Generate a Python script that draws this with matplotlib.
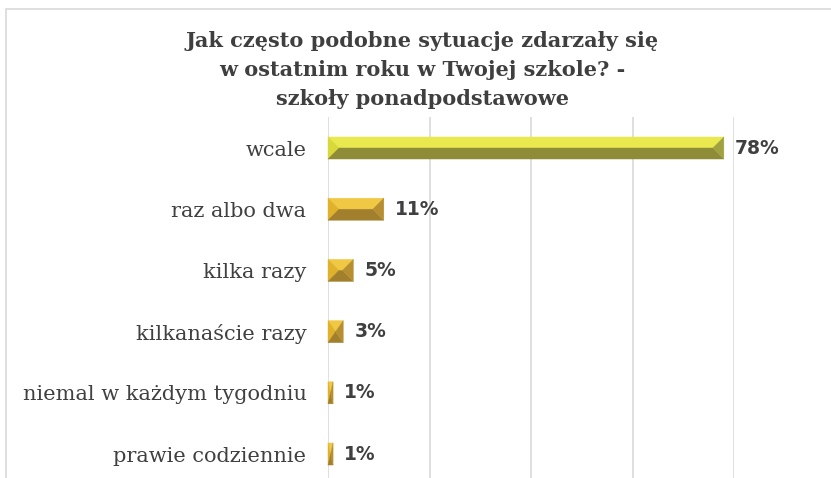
import matplotlib
matplotlib.use("Agg")
import matplotlib.pyplot as plt
from matplotlib.patches import Polygon, Rectangle
from matplotlib.transforms import IdentityTransform

categories = ["wcale", "raz albo dwa", "kilka razy", "kilkanaście razy",
              "niemal w każdym tygodniu", "prawie codziennie"]
values = [78, 11, 5, 3, 1, 1]
value_labels = ["78%", "11%", "5%", "3%", "1%", "1%"]
title = ("Jak często podobne sytuacje zdarzały się\n"
         "w ostatnim roku w Twojej szkole? -\n"
         "szkoły ponadpodstawowe")

# facet colours: top, left, bottom, right
yellow = ("#E9E84E", "#D9D83A", "#8E8C37", "#A2A13F")
gold = ("#F0C843", "#E0B22C", "#A27F2D", "#B78F30")
facet_sets = [yellow, gold, gold, gold, gold, gold]

W, H, DPI = 831, 478, 100
fig = plt.figure(figsize=(W / DPI, H / DPI), dpi=DPI)
fig.patch.set_facecolor("white")

# chart frame
fig.add_artist(Rectangle((6 / W, -0.05), 1.2, 1.05 - 9 / H,
                         transform=fig.transFigure, fill=False,
                         edgecolor="#D9D9D9", linewidth=1.2))

ax = fig.add_axes([328 / W, (H - 484.6) / H, 406 / W, 367.2 / H])
ax.set_xlim(0, 80)
ax.set_ylim(len(categories) - 0.5, -0.5)
ypos = list(range(len(categories)))
bar_h = 0.36
bars = ax.barh(ypos, values, height=bar_h, color="none", edgecolor="none", zorder=2)

ax.set_xticks([0, 20, 40, 60, 80])
ax.set_xticklabels([])
ax.xaxis.grid(True, color="#D9D9D9", linewidth=1.2)
ax.set_axisbelow(True)
ax.tick_params(axis="both", length=0)
ax.set_yticks(ypos)
ax.set_yticklabels(categories, fontfamily="DejaVu Serif", fontsize=15,
                   color="#404040")
ax.tick_params(axis="y", pad=15.5)
for s in ax.spines.values():
    s.set_visible(False)

fig.canvas.draw()

# bevelled bar faces built from each bar's rectangle
for bar, cols in zip(bars, facet_sets):
    (X0, Yb), (X1, Yt) = ax.transData.transform(
        [(bar.get_x(), bar.get_y() + bar.get_height()),
         (bar.get_x() + bar.get_width(), bar.get_y())])
    Yc = (Yb + Yt) / 2
    b = min((Yt - Yb) / 2, (X1 - X0) / 2)
    faces = [
        [(X0, Yt), (X1, Yt), (X1 - b, Yc), (X0 + b, Yc)],
        [(X0, Yt), (X0 + b, Yc), (X0, Yb)],
        [(X0, Yb), (X1, Yb), (X1 - b, Yc), (X0 + b, Yc)],
        [(X1, Yt), (X1 - b, Yc), (X1, Yb)],
    ]
    for pts, c in zip(faces, cols):
        fig.add_artist(Polygon(pts, closed=True, facecolor=c, edgecolor=c,
                               linewidth=0.3, transform=IdentityTransform(),
                               zorder=3))

for y, v, lab in zip(ypos, values, value_labels):
    ax.annotate(lab, (v, y), xytext=(8, 0), textcoords="offset points",
                ha="left", va="center", fontfamily="DejaVu Sans",
                fontweight="bold", fontsize=13.5, color="#404040",
                annotation_clip=False)

fig.text(422 / W, 1 - 70 / H, title, ha="center", va="center",
         fontfamily="DejaVu Serif", fontweight="bold", fontsize=15,
         color="#3F3F3F", linespacing=1.58)

fig.savefig("out.png", dpi=DPI)
